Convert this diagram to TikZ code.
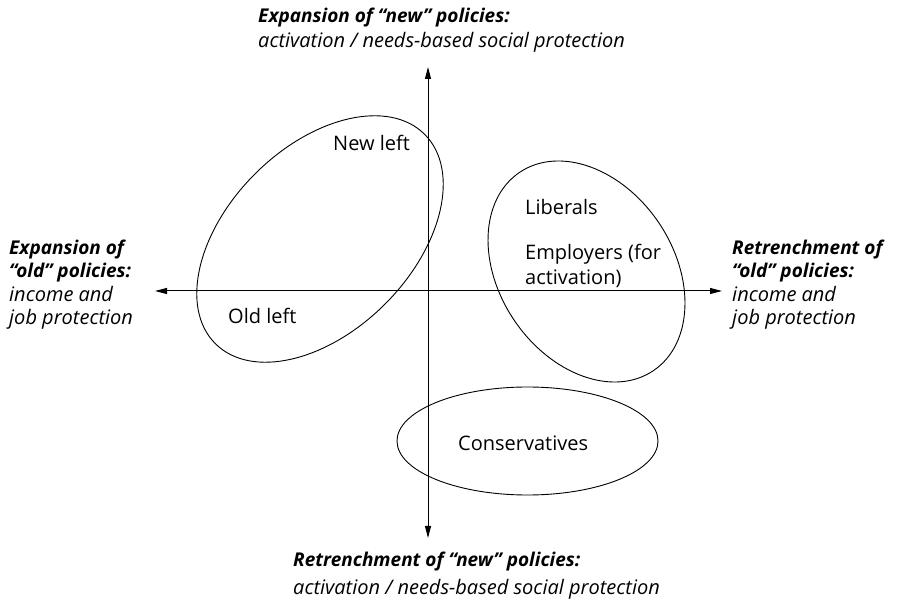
\documentclass[tikz,border=0pt]{standalone}
\usepackage{fontspec}
\setmainfont{Open Sans}
\usetikzlibrary{arrows.meta}
\begin{document}
\begin{tikzpicture}[x=1pt,y=1pt,
  lab/.style={anchor=base west,inner sep=0pt,font=\fontsize{20}{24}\selectfont},
  boldlab/.style={lab,font=\fontsize{19}{24}\selectfont\bfseries\itshape},
  itlab/.style={lab,font=\fontsize{20}{24}\selectfont\itshape},
  axis/.style={line width=1pt,-{Triangle[length=12pt,width=6pt]}},
  blob/.style={line width=0.9pt}]
\useasboundingbox (0,0) rectangle (904,602);
% axes
\coordinate (O) at (428,311);
\coordinate (T) at (428,535);
\coordinate (B) at (428,64);
\coordinate (L) at (155,311);
\coordinate (R) at (722,311);
\draw[axis] (O) -- (T);
\draw[axis] (O) -- (B);
\draw[axis] (O) -- (L);
\draw[axis] (O) -- (R);
% ellipses
\draw[blob,rotate around={45:(320,363)}] (320,363) ellipse [x radius=148, y radius=92];
\draw[blob,rotate around={-56:(586.5,330.5)}] (586.5,330.5) ellipse [x radius=119.6, y radius=87.2];
\draw[blob] (527.5,161) ellipse [x radius=130.5, y radius=54];
% top
\node[boldlab] (t1) at (258,579) {Expansion of “new” policies:};
\node[itlab] (t2) at (258,554) {activation / needs-based social protection};
% bottom
\node[boldlab] (b1) at (293,35) {Retrenchment of “new” policies:};
\node[itlab] (b2) at (293,8) {activation / needs-based social protection};
% left
\node[boldlab] (l1) at (9,347) {Expansion of};
\node[boldlab] (l2) at (9,324) {“old” policies:};
\node[itlab] (l3) at (9,300) {income and};
\node[itlab] (l4) at (9,277) {job protection};
% right
\node[boldlab] (r1) at (732,347) {Retrenchment of};
\node[boldlab] (r2) at (732,324) {“old” policies:};
\node[itlab] (r3) at (732,300) {income and};
\node[itlab] (r4) at (732,277) {job protection};
% group labels
\node[lab] (nl) at (333,451) {New left};
\node[lab] (ol) at (228,278) {Old left};
\node[lab] (lib) at (525,387) {Liberals};
\node[lab] (emp1) at (525,342) {Employers (for};
\node[lab] (emp2) at (525,317) {activation)};
\node[lab] (con) at (458,151) {Conservatives};
\end{tikzpicture}
\end{document}
